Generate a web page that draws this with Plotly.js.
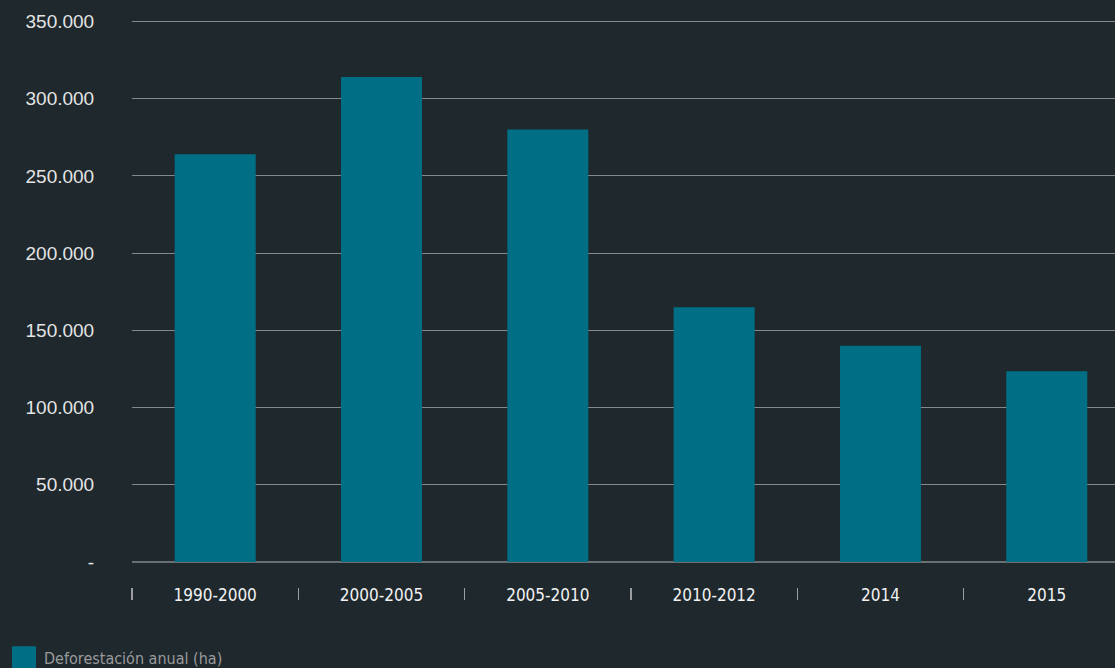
<!DOCTYPE html>
<html>
<head>
<meta charset="utf-8">
<script src="https://cdn.plot.ly/plotly-3.0.1.min.js"></script>
<style>
  html, body { margin: 0; padding: 0; background: #1e282d; }
  #chart { width: 1115px; height: 668px; }
</style>
</head>
<body>
<div id="chart"></div>
<script>
const categories = ["1990-2000", "2000-2005", "2005-2010", "2010-2012", "2014", "2015"];
const deforestation = [264000, 314000, 280000, 165000, 140000, 123500];
const yTickValues = [0, 50000, 100000, 150000, 200000, 250000, 300000, 350000];
const yTickLabels = ["-", "50.000", "100.000", "150.000", "200.000", "250.000", "300.000", "350.000"];
const seriesName = "Deforestación anual (ha)";

// layout geometry (pixels)
const W = 1115, H = 668;
const marginTop = 16, plotBottom = 587;
const zeroPx = 562, topTickPx = 21.5;
const unitsPerPx = 350000 / (zeroPx - topTickPx);
const yMax = 350000 + (topTickPx - marginTop) * unitsPerPx;
const yMin = -(plotBottom - zeroPx) * unitsPerPx;

const condensed = "Liberation Sans Narrow, DejaVu Sans Condensed, sans-serif";

const trace = {
  type: "bar",
  x: categories,
  y: deforestation,
  name: seriesName,
  marker: { color: "#006f85" },
  showlegend: true,
  hoverinfo: "none"
};

const layout = {
  width: W,
  height: H,
  paper_bgcolor: "#1e282d",
  plot_bgcolor: "#1e282d",
  margin: { l: 132, r: 0, t: marginTop, b: H - plotBottom, pad: 0 },
  bargap: 0.513,
  showlegend: true,
  xaxis: {
    type: "category",
    range: [-0.5, 5.41],
    tickson: "boundaries",
    ticks: "outside",
    ticklen: 12,
    tickwidth: 1.5,
    tickcolor: "#9a9ea0",
    ticklabelstandoff: -4,
    showgrid: false,
    showline: false,
    zeroline: false,
    tickfont: { family: condensed, size: 17, color: "#f2f2f2" },
    fixedrange: true
  },
  yaxis: {
    range: [yMin, yMax],
    tickvals: yTickValues,
    ticktext: yTickLabels,
    ticks: "outside",
    ticklen: 33,
    tickcolor: "rgba(0,0,0,0)",
    showgrid: true,
    gridcolor: "#85898b",
    gridwidth: 1,
    zeroline: true,
    zerolinecolor: "#6a6f72",
    zerolinewidth: 2,
    showline: false,
    tickfont: { family: "Liberation Sans, Arial, sans-serif", size: 19, color: "#e4e4e4" },
    fixedrange: true
  },
  legend: {
    xref: "container",
    yref: "container",
    x: 0.0036,
    xanchor: "left",
    y: 0.040,
    yanchor: "top",
    orientation: "h",
    bgcolor: "rgba(0,0,0,0)",
    font: { family: condensed, size: 16, color: "#9a9a9a" }
  }
};

Plotly.newPlot("chart", [trace], layout, { staticPlot: true, displayModeBar: false }).then(function () {
  document.querySelectorAll("#chart .legendpoints path").forEach(function (p) {
    const t = p.getAttribute("transform") || "";
    p.setAttribute("transform", (t + " scale(2)").trim());
  });
});
</script>
</body>
</html>
